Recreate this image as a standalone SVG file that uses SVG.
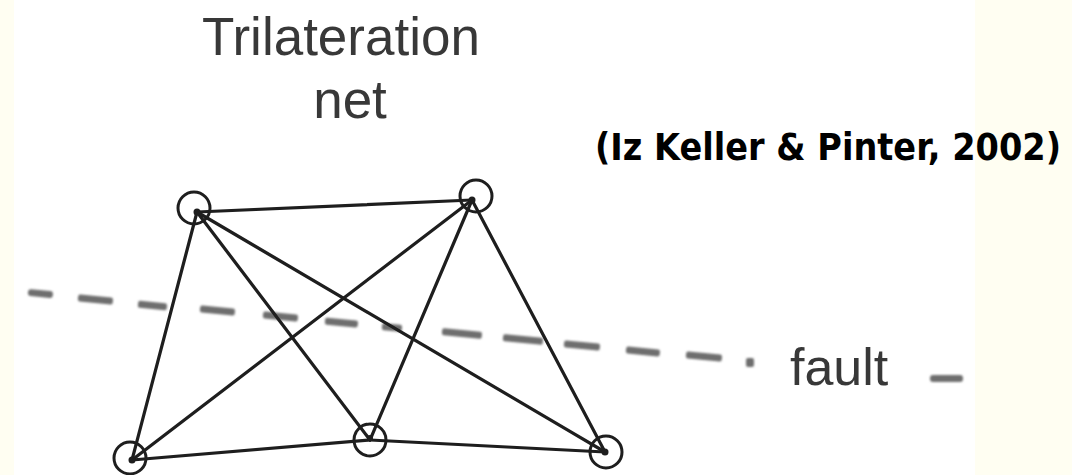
<svg xmlns="http://www.w3.org/2000/svg" width="1072" height="475" viewBox="0 0 1072 475">
  <defs>
    <style>
      .lbl { font-family: "Liberation Sans", Arial, sans-serif; fill: #383838; }
      .cite { font-family: "Comic Sans MS", "DejaVu Sans", sans-serif; font-weight: bold; fill: #000000; }
      .edge { stroke: #1e1e1e; stroke-width: 3.2; stroke-linecap: round; fill: none; }
      .station { stroke: #1e1e1e; stroke-width: 3; fill: none; }
      .dot { fill: #1e1e1e; }
      .dash { fill: #6e6e6e; }
    </style>
    <filter id="soft" x="-20%" y="-50%" width="140%" height="200%">
      <feGaussianBlur stdDeviation="0.9"/>
    </filter>
  </defs>
  <rect x="0" y="0" width="1072" height="475" fill="#FFFEF2"/>
  <rect x="14" y="0" width="961" height="475" fill="#FFFFFF"/>

  <g id="title">
    <text class="lbl" x="341" y="55" font-size="53" text-anchor="middle">Trilateration</text>
    <text class="lbl" x="350" y="118" font-size="53" text-anchor="middle">net</text>
  </g>
  <g id="citation">
    <text class="cite" transform="translate(595 160) scale(1 1.15)" x="0" y="0" font-size="33" textLength="466" lengthAdjust="spacingAndGlyphs">(Iz Keller &amp; Pinter, 2002)</text>
  </g>

  <g id="fault" filter="url(#soft)">
    <rect class="dash" x="28" y="290" width="25" height="7" rx="3" transform="rotate(5.5 40 293)"/>
    <rect class="dash" x="78" y="296" width="35" height="7" rx="2" transform="rotate(5.5 95 299)"/>
    <rect class="dash" x="138" y="302" width="29" height="7" rx="2" transform="rotate(5.5 152 305)"/>
    <rect class="dash" x="200" y="307" width="35" height="7" rx="2" transform="rotate(5.5 217 310)"/>
    <rect class="dash" x="263" y="313" width="35" height="7" rx="2" transform="rotate(5.5 280 316)"/>
    <rect class="dash" x="325" y="319" width="33" height="7" rx="2" transform="rotate(5.5 341 322)"/>
    <rect class="dash" x="382" y="324" width="20" height="7" rx="2" transform="rotate(5.5 392 327)"/>
    <rect class="dash" x="442" y="330" width="40" height="7" rx="2" transform="rotate(5.5 462 333)"/>
    <rect class="dash" x="503" y="336" width="40" height="7" rx="2" transform="rotate(5.5 523 339)"/>
    <rect class="dash" x="564" y="342" width="36" height="7" rx="2" transform="rotate(5.5 582 345)"/>
    <rect class="dash" x="626" y="348" width="34" height="7" rx="2" transform="rotate(5.5 643 351)"/>
    <rect class="dash" x="686" y="353" width="36" height="7" rx="2" transform="rotate(5.5 704 356)"/>
    <rect class="dash" x="746" y="358" width="8" height="9" rx="2"/>
    <rect class="dash" x="930" y="375" width="33" height="7" rx="3"/>
  </g>
  <g id="fault-label">
    <text class="lbl" x="790" y="385" font-size="52">fault</text>
  </g>

  <g id="connectors">
    <line class="edge" x1="197" y1="212" x2="472" y2="200"/>
    <line class="edge" x1="197" y1="212" x2="132" y2="460"/>
    <line class="edge" x1="197" y1="212" x2="370" y2="440"/>
    <line class="edge" x1="197" y1="212" x2="605" y2="452"/>
    <line class="edge" x1="472" y1="200" x2="132" y2="460"/>
    <line class="edge" x1="472" y1="200" x2="370" y2="440"/>
    <line class="edge" x1="472" y1="200" x2="605" y2="452"/>
    <line class="edge" x1="132" y1="460" x2="370" y2="440"/>
    <line class="edge" x1="370" y1="440" x2="605" y2="452"/>
  </g>

  <g id="station-tl">
    <circle class="station" cx="194" cy="208" r="16"/>
    <circle class="dot" cx="197" cy="212" r="3.5"/>
  </g>
  <g id="station-tr">
    <circle class="station" cx="476" cy="196" r="16"/>
    <circle class="dot" cx="472" cy="200" r="3.5"/>
  </g>
  <g id="station-bl">
    <circle class="station" cx="130" cy="458" r="16"/>
    <circle class="dot" cx="132" cy="460" r="3.5"/>
  </g>
  <g id="station-bm">
    <circle class="station" cx="370" cy="440" r="16"/>
    <circle class="dot" cx="370" cy="438" r="3"/>
  </g>
  <g id="station-br">
    <circle class="station" cx="606" cy="452" r="16"/>
    <circle class="dot" cx="605" cy="452" r="3.5"/>
  </g>
</svg>
